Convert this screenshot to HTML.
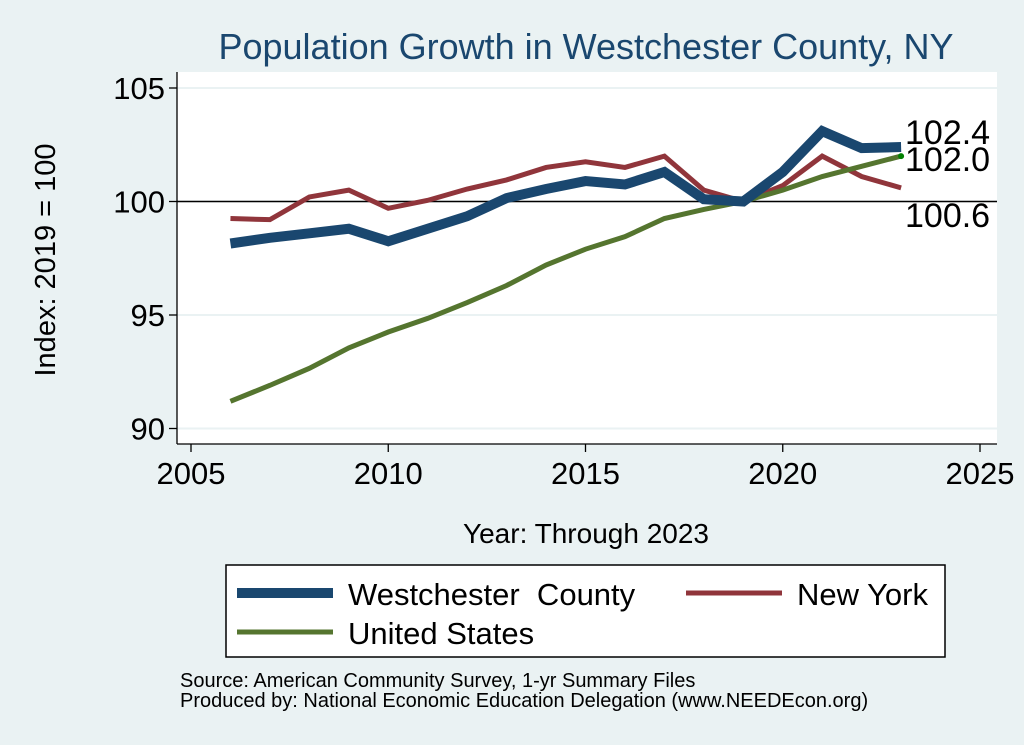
<!DOCTYPE html>
<html><head><meta charset="utf-8">
<style>
html,body{margin:0;padding:0;background:#eaf2f3;}
svg{display:block;font-family:"Liberation Sans",Arial,sans-serif;}
</style></head>
<body>
<svg id="chart" width="1024" height="745" viewBox="0 0 1024 745">
<rect x="0" y="0" width="1024" height="745" fill="#eaf2f3"/>
<text x="586" y="59" font-size="36" fill="#1a476f" text-anchor="middle">Population Growth in Westchester County, NY</text>
<rect x="177" y="72" width="820" height="372" fill="#fff"/>
<g id="grid"></g>
<g id="axes"></g>
<g id="series"></g>
<g id="labels"></g>
<text x="586" y="543" font-size="28" text-anchor="middle" fill="#000">Year: Through 2023</text>
<text transform="translate(55,260) rotate(-90)" font-size="29" text-anchor="middle" fill="#000">Index: 2019 = 100</text>
<g>
<rect x="226" y="565" width="719" height="92" fill="#fff" stroke="#000" stroke-width="1.5"/>
<line x1="237" y1="593" x2="333" y2="593" stroke="#1a476f" stroke-width="10"/>
<text x="348" y="605" font-size="31">Westchester&#160; County</text>
<line x1="686" y1="593" x2="782" y2="593" stroke="#90353b" stroke-width="5"/>
<text x="797" y="605" font-size="31">New York</text>
<line x1="237" y1="632" x2="333" y2="632" stroke="#55752f" stroke-width="5"/>
<text x="348" y="644" font-size="31">United States</text>
</g>
<text x="180" y="687" font-size="20">Source: American Community Survey, 1-yr Summary Files</text>
<text x="180" y="707" font-size="20">Produced by: National Economic Education Delegation (www.NEEDEcon.org)</text>
</svg>
<script>
const years=[2006,2007,2008,2009,2010,2011,2012,2013,2014,2015,2016,2017,2018,2019,2020,2021,2022,2023];
const westchester=[98.15,98.4,98.6,98.8,98.25,98.8,99.35,100.15,100.55,100.9,100.75,101.3,100.1,100,101.3,103.1,102.35,102.4];
const newYork=[99.25,99.2,100.2,100.5,99.7,100.05,100.55,100.95,101.5,101.75,101.5,102.0,100.5,100,100.7,102.0,101.1,100.6];
const unitedStates=[91.2,91.9,92.65,93.55,94.25,94.85,95.55,96.3,97.2,97.9,98.45,99.25,99.65,100,100.5,101.1,101.55,102.0];
const xTicks=[2005,2010,2015,2020,2025];
const yTicks=[90,95,100,105];
const endLabels=["102.4","102.0","100.6"];

const NS="http://www.w3.org/2000/svg";
const X=v=>191+(v-2005)*39.45;
const Y=v=>201.5-(v-100)*22.7;
function mk(tag,attrs,parent){const e=document.createElementNS(NS,tag);for(const k in attrs)e.setAttribute(k,attrs[k]);parent.appendChild(e);return e;}
const grid=document.getElementById('grid'),axes=document.getElementById('axes'),series=document.getElementById('series'),labels=document.getElementById('labels');

yTicks.forEach(t=>{
  const g=mk('line',{x1:177,x2:997,y1:Y(t),y2:Y(t),stroke:'#eaf2f3','stroke-width':2},grid);
  
  
  const tk=mk('line',{x1:169,x2:177,y1:Y(t),y2:Y(t),stroke:'#000','stroke-width':1.3},axes);
  
  
  const tx=mk('text',{x:165,y:Y(t)+11,'font-size':31,'text-anchor':'end'},axes);
  tx.textContent=t;
  
  
});
xTicks.forEach(t=>{
  const tk=mk('line',{x1:X(t),x2:X(t),y1:444,y2:452,stroke:'#000','stroke-width':1.3},axes);
  
  
  const tx=mk('text',{x:X(t),y:484,'font-size':31,'text-anchor':'middle'},axes);
  tx.textContent=t;
  
  
});
const ax1=mk('line',{x1:177,x2:177,y1:72,y2:444,stroke:'#000','stroke-width':1.3},axes);


const ax2=mk('line',{x1:177,x2:997,y1:444,y2:444,stroke:'#000','stroke-width':1.3},axes);


const ref=mk('line',{x1:177,x2:997,y1:Y(100),y2:Y(100),stroke:'#000','stroke-width':1.5},axes);



function line(vals,color,w,name){
  const p=mk('polyline',{points:vals.map((v,i)=>X(years[i])+','+Y(v)).join(' '),fill:'none',stroke:color,'stroke-width':w,'stroke-linejoin':'miter'},series);
  
  
}
line(newYork,'#90353b',5,'line-new-york');
line(unitedStates,'#55752f',5,'line-united-states');
line(westchester,'#1a476f',10,'line-westchester');
const last=years.length-1;
const dot=mk('circle',{cx:X(years[last]),cy:Y(unitedStates[last]),r:3,fill:'#008000'},series);



const lv=[westchester[last],unitedStates[last],newYork[last]];
const ly=[Y(lv[0])-3,Y(lv[1])+15,Y(lv[2])+39];
endLabels.forEach((s,i)=>{
  const t=mk('text',{x:905,y:ly[i],'font-size':34},labels);
  t.textContent=s;
  
  
});
</script>
</body></html>
